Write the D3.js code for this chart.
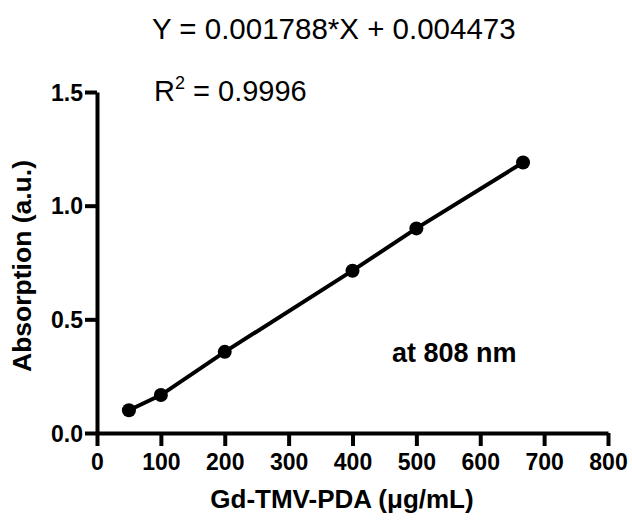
<!DOCTYPE html><html lang="en">
<head>
  <meta charset="UTF-8">
  <title>Absorption calibration</title>
  <script src="https://d3js.org/d3.v7.min.js"></script>
  <style>
    body { margin: 0; background: white; }
    svg { display: block; font-family: "Liberation Sans", Arial, sans-serif; }
    .tick text { font-size: 23px; font-weight: bold; fill: #000; font-family: "Liberation Sans", Arial, sans-serif; }
  </style>
</head>
<body>
<svg width="632" height="521"></svg>
<script>
const conc = [50, 100, 200, 400, 500, 667];
const absorb = [0.10, 0.167, 0.357, 0.714, 0.90, 1.19];
const xTicks = [0, 100, 200, 300, 400, 500, 600, 700, 800];
const yTicks = [0.0, 0.5, 1.0, 1.5];

const svg = d3.select("svg");
const x = d3.scaleLinear().domain([0, 800]).range([97, 608]);
const y = d3.scaleLinear().domain([0, 1.5]).range([433, 92]);

// axes
const xAxis = svg.append("g")
  .attr("transform", `translate(0,${y(0)})`)
  .call(d3.axisBottom(x).tickValues(xTicks).tickSize(13).tickSizeOuter(0).tickPadding(7));
const yAxis = svg.append("g")
  .attr("transform", `translate(${x(0)},0)`)
  .call(d3.axisLeft(y).tickValues(yTicks).tickFormat(d3.format(".1f")).tickSize(12).tickSizeOuter(0).tickPadding(2));

[xAxis, yAxis].forEach(a => {
  a.select(".domain").attr("stroke", "#000").attr("stroke-width", 4);
  a.selectAll(".tick line").attr("stroke", "#000").attr("stroke-width", 4);
});
xAxis.selectAll(".tick text").attr("dy", "0.72em");
yAxis.selectAll(".tick text").attr("dy", "0.36em");

// line + points
const pts = conc.map((c, i) => [c, absorb[i]]);
svg.append("path")
  .datum(pts)
  .attr("fill", "none")
  .attr("stroke", "#000")
  .attr("stroke-width", 4)
  .attr("d", d3.line().x(d => x(d[0])).y(d => y(d[1])));

svg.selectAll("circle.pt")
  .data(pts)
  .enter()
  .append("circle")
  .attr("class", "pt")
  .attr("cx", d => x(d[0]))
  .attr("cy", d => y(d[1]))
  .attr("r", 7)
  .attr("fill", "#000");

// labels
svg.append("text")
  .attr("x", 152).attr("y", 39)
  .style("font-size", "29.5px")
  .text("Y = 0.001788*X + 0.004473");

const r2 = svg.append("text")
  .attr("x", 154).attr("y", 101)
  .style("font-size", "29px");
r2.append("tspan").text("R");
r2.append("tspan").attr("dy", -12).style("font-size", "18px").text("2");
r2.append("tspan").attr("dy", 12).text(" = 0.9996");

svg.append("text")
  .attr("x", 392).attr("y", 362)
  .style("font-size", "27px")
  .style("font-weight", "bold")
  .text("at 808 nm");

svg.append("text")
  .attr("transform", "translate(31,266) rotate(-90)")
  .attr("text-anchor", "middle")
  .style("font-size", "26.5px")
  .style("font-weight", "bold")
  .text("Absorption (a.u.)");

svg.append("text")
  .attr("x", 342).attr("y", 508)
  .attr("text-anchor", "middle")
  .style("font-size", "26px")
  .style("font-weight", "bold")
  .text("Gd-TMV-PDA (μg/mL)");
</script>
</body>
</html>
